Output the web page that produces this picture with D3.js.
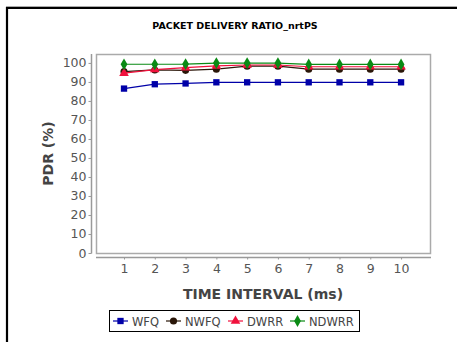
<!DOCTYPE html>
<html>
<head>
<meta charset="utf-8">
<script src="https://cdn.jsdelivr.net/npm/d3@7"></script>
<style>
  html, body { margin: 0; padding: 0; background: #fff; }
  svg { display: block; }
  text { font-family: "DejaVu Sans", sans-serif; }
</style>
</head>
<body>
<svg id="chart" width="457" height="342"></svg>
<script>
// Time intervals (ms) and packet delivery ratio (%) per scheduler
const intervals = [1, 2, 3, 4, 5, 6, 7, 8, 9, 10];
const wfq   = [86.5, 88.8, 89.2, 89.8, 89.8, 89.8, 89.8, 89.8, 89.8, 89.8];
const nwfq  = [95.4, 96.3, 96.1, 96.7, 98.3, 98.3, 96.7, 96.7, 96.7, 96.7];
const dwrr  = [94.6, 96.5, 97.5, 98.4, 98.9, 98.9, 98.0, 98.0, 98.0, 98.0];
const ndwrr = [99.3, 99.3, 99.4, 99.9, 99.9, 99.9, 99.2, 99.2, 99.2, 99.2];
const seriesNames = ["WFQ", "NWFQ", "DWRR", "NDWRR"];
const yTicks = [0, 10, 20, 30, 40, 50, 60, 70, 80, 90, 100];

const series = [
  { name: seriesNames[0], values: wfq,   color: "#0000a8", shape: d3.symbolSquare },
  { name: seriesNames[1], values: nwfq,  color: "#2a1608", shape: d3.symbolCircle },
  { name: seriesNames[2], values: dwrr,  color: "#f0103c", shape: d3.symbolTriangle },
  { name: seriesNames[3], values: ndwrr, color: "#0a8a14", shape: d3.symbolDiamond }
];

const svg = d3.select("#chart");

// outer frame (top and left edges)
svg.append("line").attr("x1", 6).attr("x2", 457).attr("y1", 6.5).attr("y2", 6.5)
  .attr("stroke", "#aaa").attr("stroke-width", 1);
svg.append("path").attr("d", "M7,342 V8 H457")
  .attr("fill", "none").attr("stroke", "#000").attr("stroke-width", 2.2);

// title
svg.append("text")
  .attr("x", 235).attr("y", 29)
  .attr("text-anchor", "middle")
  .attr("font-size", 9.5).attr("font-weight", "bold").attr("fill", "#000")
  .text("PACKET DELIVERY RATIO_nrtPS");

const plot = { left: 96, right: 430, top: 54, bottom: 253 };

const x = d3.scaleLinear().domain([0.09, 10.94]).range([plot.left, plot.right]);
const y = d3.scaleLinear().domain([0, 104.7]).range([plot.bottom, plot.top]);

// plot background and border
svg.append("rect")
  .attr("x", plot.left + 0.5).attr("y", plot.top + 0.5)
  .attr("width", plot.right - plot.left).attr("height", plot.bottom - plot.top)
  .attr("fill", "#fff").attr("stroke", "#aaa").attr("stroke-width", 1.5);

// y axis (offset from the plot)
const yAxis = d3.axisLeft(y).tickValues(yTicks).tickSize(3).tickPadding(2);
const gy = svg.append("g").attr("transform", `translate(${plot.left - 4.5},0)`).call(yAxis);
gy.select(".domain").attr("stroke", "#999").attr("stroke-width", 1.5)
  .attr("d", `M0,${plot.top}V${plot.bottom + 0.5}`);
gy.selectAll(".tick line").attr("stroke", "#999");
gy.selectAll(".tick text").attr("font-size", 12.5).attr("fill", "#555")
  .attr("font-family", "DejaVu Sans, sans-serif");

// x axis (offset from the plot)
const xAxis = d3.axisBottom(x).tickValues(intervals).tickSize(2).tickPadding(5);
const gx = svg.append("g").attr("transform", `translate(0,${plot.bottom + 4.5})`).call(xAxis);
gx.select(".domain").attr("stroke", "#999").attr("stroke-width", 1.5)
  .attr("d", `M${plot.left},0H${plot.right + 1}`);
gx.selectAll(".tick line").attr("stroke", "#999");
gx.selectAll(".tick text").attr("font-size", 12.5).attr("fill", "#555")
  .attr("font-family", "DejaVu Sans, sans-serif");

// axis titles
svg.append("text")
  .attr("x", 263).attr("y", 299)
  .attr("text-anchor", "middle")
  .attr("font-size", 14).attr("font-weight", "bold").attr("fill", "#444")
  .text("TIME INTERVAL (ms)");
svg.append("text")
  .attr("transform", `translate(53,${(plot.top + plot.bottom) / 2}) rotate(-90)`)
  .attr("text-anchor", "middle")
  .attr("font-size", 14).attr("font-weight", "bold").attr("fill", "#444")
  .text("PDR (%)");

// lines and markers
const line = d3.line().x((d, i) => x(intervals[i])).y(d => y(d));
const shapeSize = 40;
series.forEach(s => {
  svg.append("path")
    .attr("d", line(s.values))
    .attr("fill", "none").attr("stroke", s.color).attr("stroke-width", 1.2);
  svg.selectAll(null).data(s.values).enter().append("path")
    .attr("transform", (d, i) => `translate(${x(intervals[i])},${y(d)})`)
    .attr("d", d3.symbol().type(s.shape).size(shapeSize))
    .attr("fill", s.color);
});

// legend
const legend = svg.append("g");
legend.append("rect")
  .attr("x", 109.5).attr("y", 310.5).attr("width", 250).attr("height", 21)
  .attr("fill", "#fff").attr("stroke", "#000").attr("stroke-width", 1);
const legendX = [113, 166, 228, 290];
series.forEach((s, i) => {
  const lx = legendX[i];
  legend.append("line")
    .attr("x1", lx).attr("x2", lx + 15).attr("y1", 321).attr("y2", 321)
    .attr("stroke", s.color).attr("stroke-width", 1.2);
  legend.append("path")
    .attr("transform", `translate(${lx + 7.5},321)`)
    .attr("d", d3.symbol().type(s.shape).size(shapeSize))
    .attr("fill", s.color);
  legend.append("text")
    .attr("x", lx + 19).attr("y", 325.5)
    .attr("font-size", 11.5).attr("fill", "#444")
    .text(s.name);
});
</script>
</body>
</html>
